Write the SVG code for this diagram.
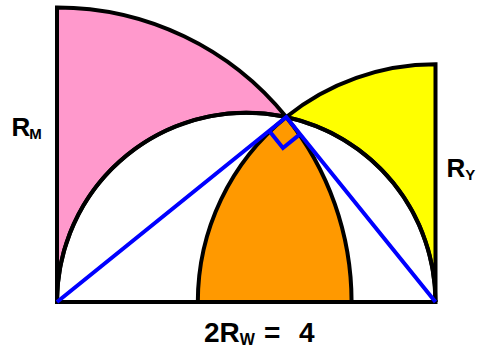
<svg xmlns="http://www.w3.org/2000/svg" width="486" height="351" viewBox="0 0 486 351">
<style>
.shape{stroke:#000;stroke-width:4;stroke-linejoin:miter}
.line{fill:none;stroke:#000;stroke-width:4}
.blue{fill:none;stroke:#0000FF;stroke-width:4;stroke-linejoin:miter}
.lbl{font-family:"Liberation Sans",Arial,sans-serif;font-weight:bold;fill:#000}
</style>
<rect width="486" height="351" fill="#fff"/>
<g id="pink-region">
<path class="shape" fill="#FF99CC" d="M57,302 L57,7.43 A294.57,294.57 0 0 1 286.25,117.03 A189.25,189.25 0 0 0 57,302 Z"/>
</g>
<g id="yellow-region">
<path class="shape" fill="#FFFF00" d="M435.5,302 L435.5,64.33 A237.67,237.67 0 0 0 286.25,117.03 A189.25,189.25 0 0 1 435.5,302 Z"/>
</g>
<g id="orange-region">
<path class="shape" fill="#FF9900" d="M197.83,302 A237.67,237.67 0 0 1 286.25,117.03 A294.57,294.57 0 0 1 351.57,302 Z"/>
</g>
<g id="semicircle">
<path class="line" d="M57,302 A189.25,189.25 0 0 1 435.5,302"/>
<line class="line" x1="55" y1="302" x2="437.5" y2="302"/>
</g>
<g id="connectors">
<polyline class="blue" points="57,302 286.25,117.03 435.5,302"/>
<polyline class="blue" stroke-width="3" points="269.13,130.84 282.95,147.96 300.07,134.15"/>
</g>
<g id="labels">
<text class="lbl" font-size="26" x="11.5" y="136">R<tspan font-size="15" dx="-1" dy="3">M</tspan></text>
<text class="lbl" font-size="26" x="446.5" y="177">R<tspan font-size="15" dy="3">Y</tspan></text>
<text class="lbl" font-size="28" x="204" y="342">2R<tspan font-size="16" dy="3">W</tspan><tspan dy="-3" x="264">=</tspan><tspan x="299">4</tspan></text>
</g>
</svg>
